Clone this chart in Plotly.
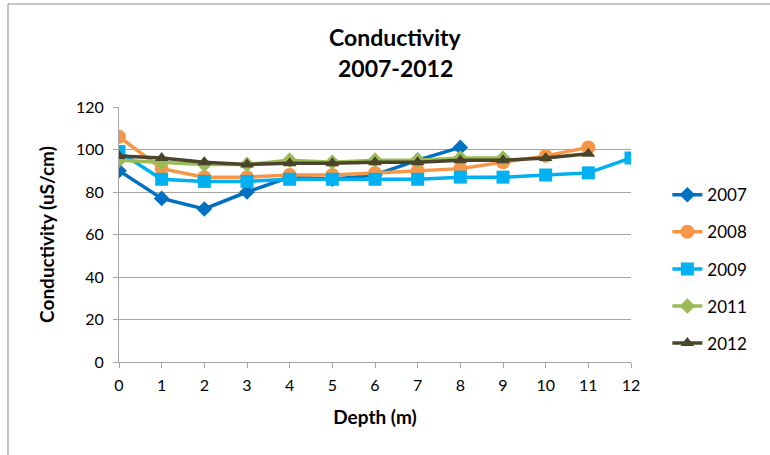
import plotly.graph_objects as go

# Depth (m) and conductivity (uS/cm) per year
depth = list(range(13))

cond_2007 = [90, 77, 72, 80, 87, 86, 88, 95, 101]
cond_2008 = [106, 91, 87, 87, 88, 88, 89, 90, 91, 94, 97, 101]
cond_2009 = [99, 86, 85, 85, 86, 86, 86, 86, 87, 87, 88, 89, 96]
cond_2011 = [95, 94, 93, 93, 95, 94, 95, 95, 96, 96]
cond_2012 = [97, 96, 94, 93, 93.5, 93.5, 94, 94, 95, 95, 96, 98]

series = [
    ("2007", cond_2007, "#0070C0", "diamond", 12),
    ("2008", cond_2008, "#F79646", "circle", 14),
    ("2009", cond_2009, "#00B0F0", "square", 13),
    ("2011", cond_2011, "#9BBB59", "diamond", 12),
    ("2012", cond_2012, "#4A452A", "triangle-up", 12),
]

fig = go.Figure()
for name, vals, color, sym, size in series:
    fig.add_trace(go.Scatter(
        x=depth[:len(vals)],
        y=vals,
        mode="lines+markers",
        name=name,
        legendgroup=name,
        line=dict(color=color, width=3.5),
        marker=dict(symbol=sym, size=size, color=color),
    ))

font = "Lato, 'Open Sans', sans-serif"

fig.update_layout(
    width=770,
    height=455,
    margin=dict(l=119, r=139, t=107, b=93),
    paper_bgcolor="white",
    plot_bgcolor="white",
    font=dict(family=font, size=16, color="#000000"),
    showlegend=True,
    legend=dict(
        x=1.071, y=0.725, xanchor="left", yanchor="top",
        font=dict(size=17),
        tracegroupgap=12,
    ),
    xaxis=dict(
        range=[0, 12],
        tickvals=depth,
        showgrid=False,
        showline=True, linecolor="#A6A6A6", linewidth=1,
        ticks="outside", tickcolor="#A6A6A6", ticklen=5,
        ticklabelstandoff=4,
        zeroline=False,
        automargin=False,
        title=dict(text="<b>Depth (m)</b>", font=dict(size=19), standoff=17),
    ),
    yaxis=dict(
        range=[0, 120],
        dtick=20,
        showgrid=True, gridcolor="#A6A6A6", gridwidth=1,
        showline=True, linecolor="#A6A6A6", linewidth=1,
        ticks="outside", tickcolor="#A6A6A6", ticklen=5,
        ticklabelstandoff=6,
        zeroline=False,
        automargin=False,
        title=dict(text="<b>Conductivity (uS/cm)</b>", font=dict(size=19), standoff=16),
    ),
    annotations=[
        dict(text="<b>Conductivity</b>", x=0.541, y=1.275, xref="paper", yref="paper",
             xanchor="center", yanchor="middle", showarrow=False, font=dict(size=23)),
        dict(text="<b>2007-2012</b>", x=0.541, y=1.153, xref="paper", yref="paper",
             xanchor="center", yanchor="middle", showarrow=False, font=dict(size=23)),
    ],
    shapes=[
        dict(type="rect", xref="paper", yref="paper",
             x0=-0.2168, y0=-1, x1=2, y1=1.404,
             line=dict(color="#8C8C8C", width=1), layer="below"),
    ],
)

# drop the page's default body margin so the figure sits at the top-left corner
fig.write_html("out.html", config={"displayModeBar": False},
               post_script="document.body.style.margin='0';")
